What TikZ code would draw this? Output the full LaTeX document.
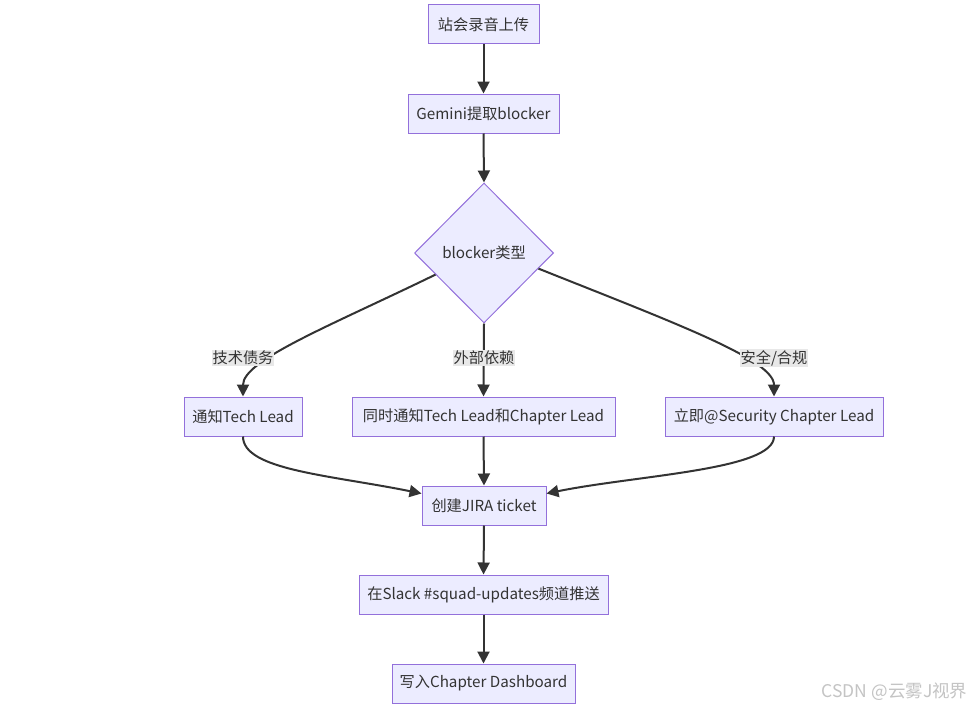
\documentclass[tikz,border=0pt]{standalone}
\usepackage{fontspec}
\setmainfont{Noto Sans CJK SC}
\usetikzlibrary{arrows.meta,shapes.geometric}
\definecolor{mfill}{HTML}{ECECFF}
\definecolor{mstroke}{HTML}{9370DB}
\definecolor{mline}{HTML}{333333}
\definecolor{lblbg}{HTML}{E8E8E8}
\definecolor{wmark}{HTML}{C4C4C4}
\begin{document}
\begin{tikzpicture}[x=1pt,y=-1pt,
  box/.style={draw=mstroke,fill=mfill,line width=1pt,minimum height=39pt,inner sep=0pt,
    font=\fontsize{15.2}{18}\selectfont,text=mline},
  dia/.style={diamond,draw=mstroke,fill=mfill,line width=1pt,inner sep=0pt,
    minimum width=139pt,minimum height=140pt,font=\fontsize{15.2}{18}\selectfont,text=mline},
  edge/.style={draw=mline,line width=2pt,-{Triangle[length=12pt,width=12pt]}},
  lbl/.style={fill=lblbg,inner xsep=1pt,inner ysep=1pt,font=\fontsize{15.2}{18}\selectfont,text=mline}]
\useasboundingbox (0,0) rectangle (974,709);
\fill[white] (0,0) rectangle (974,709);
\node[box,minimum width=111pt] (A) at (483.5,24.5) {站会录音上传};
\node[box,minimum width=151pt] (B) at (483.5,113.5) {Gemini提取blocker};
\node[dia] (C) at (484,253) {blocker类型};
\node[box,minimum width=118pt] (D) at (243,416.5) {通知Tech Lead};
\node[box,minimum width=263pt] (E) at (483.5,416.5) {同时通知Tech Lead和Chapter Lead};
\node[box,minimum width=218pt] (F) at (774,416.5) {立即@Security Chapter Lead};
\node[box,minimum width=124pt] (G) at (484,505.5) {创建JIRA ticket};
\node[box,minimum width=249pt] (H) at (483.5,594.5) {在Slack \#squad-updates频道推送};
\node[box,minimum width=183pt] (I) at (483.5,683.5) {写入Chapter Dashboard};

\draw[edge] (A.south) -- (B.north);
\draw[edge] (B.south) -- (C.north);
\draw[edge] (C.204.6) .. controls (330,326) and (243,360) .. (D.north);
\draw[edge] (C.south) -- (E.north);
\draw[edge] (C.-16) .. controls (680,325) and (774,360) .. (F.north);
\draw[edge] (D.south) .. controls (243,470) and (330,475) .. ([yshift=12pt]G.west);
\draw[edge] (E.south) -- (G.north);
\draw[edge] (F.south) .. controls (774,470) and (638,475) .. ([yshift=12pt]G.east);
\draw[edge] (G.south) -- (H.north);
\draw[edge] (H.south) -- (I.north);

\node[lbl] (L1) at (243,358) {技术债务};
\node[lbl] (L2) at (484,358) {外部依赖};
\node[lbl] (L3) at (774,358) {安全/合规};

\node[text=wmark,font=\fontsize{17.5}{20}\selectfont,anchor=east] (W) at (971,692) {CSDN @云雾J视界};
\end{tikzpicture}
\end{document}
